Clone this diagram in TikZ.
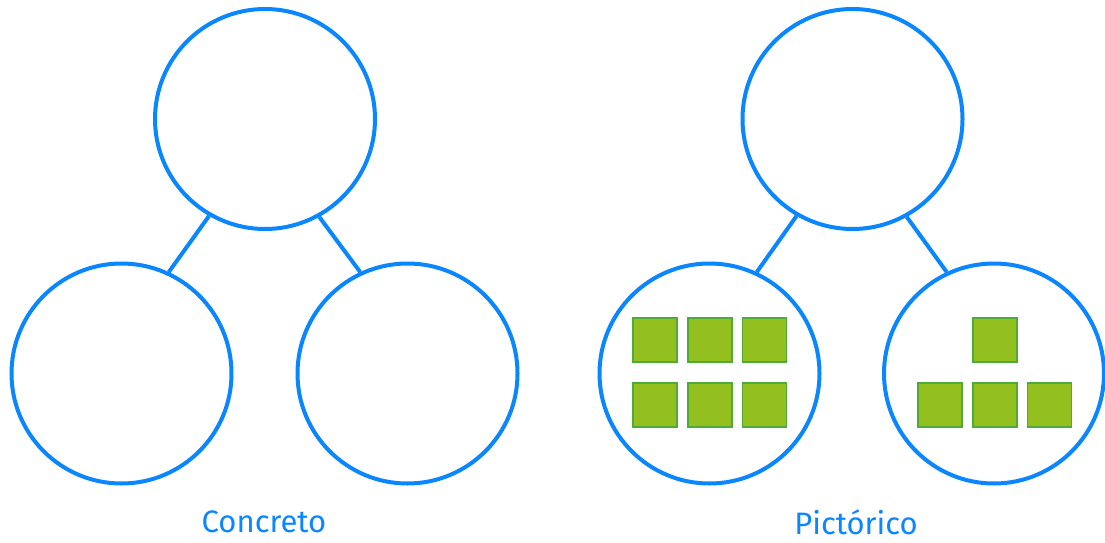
\documentclass[tikz,border=0pt]{standalone}
\usepackage{fontspec}
\setmainfont{Fira Sans}
\definecolor{cblue}{RGB}{10,134,255}
\definecolor{sqfill}{RGB}{147,192,31}
\definecolor{sqdraw}{RGB}{76,172,58}
\begin{document}
\begin{tikzpicture}[x=1pt,y=-1pt,
  bubble/.style={circle,draw=cblue,line width=4pt,minimum size=220pt,inner sep=0pt},
  link/.style={draw=cblue,line width=4pt},
  block/.style={rectangle,fill=sqfill,draw=sqdraw,line width=1.5pt,minimum size=44pt,inner sep=0pt},
  caption/.style={text=cblue,font=\fontsize{31}{36}\selectfont,inner sep=0pt}]
\useasboundingbox (0,0) rectangle (1105,543);
% left diagram
\node[bubble] (lt) at (265,119) {};
\node[bubble] (lbl) at (121.5,373.5) {};
\node[bubble] (lbr) at (407.5,373.5) {};
\draw[link] (lt.240.5) -- (lbl.65);
\draw[link] (lt.299.5) -- (lbr.115.5);
\node[caption] (lcap) at (264,522) {Concreto};
% right diagram
\node[bubble] (rt) at (852.5,119) {};
\node[bubble] (rbl) at (709.5,373.5) {};
\node[bubble] (rbr) at (994,373.5) {};
\draw[link] (rt.240.5) -- (rbl.65);
\draw[link] (rt.299.5) -- (rbr.115.5);
\node[caption] (rcap) at (856,522) {Pictórico};
% blocks left
\node[block] (a1) at (654.8,340) {};
\node[block] (a2) at (709.8,340) {};
\node[block] (a3) at (764.5,340) {};
\node[block] (a4) at (654.8,405) {};
\node[block] (a5) at (709.8,405) {};
\node[block] (a6) at (764.5,405) {};
% blocks right
\node[block] (b1) at (994.8,340) {};
\node[block] (b2) at (940.2,405) {};
\node[block] (b3) at (994.8,405) {};
\node[block] (b4) at (1049.5,405) {};
\end{tikzpicture}
\end{document}
